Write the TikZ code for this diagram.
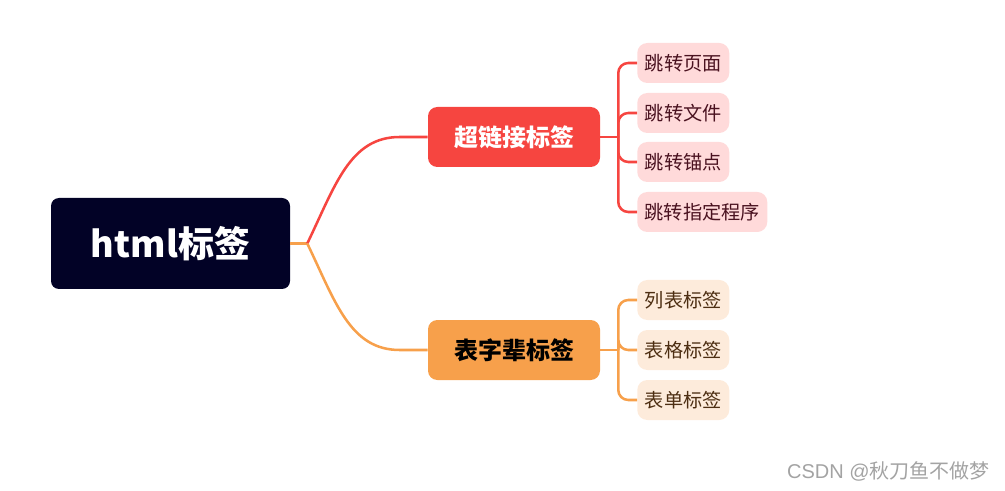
\documentclass[tikz,border=0pt]{standalone}
\usepackage{fontspec}
\setmainfont{Noto Sans CJK SC}
\newfontfamily\cjk{Noto Sans CJK SC}
\newfontfamily\arialx{Liberation Sans}
\usetikzlibrary{calc}
\definecolor{rootbg}{HTML}{020226}
\definecolor{redc}{HTML}{F64540}
\definecolor{orac}{HTML}{F7A04B}
\definecolor{redleaf}{HTML}{FFDADA}
\definecolor{oraleaf}{HTML}{FDEBDB}
\definecolor{redtxt}{HTML}{4A1220}
\definecolor{oratxt}{HTML}{4D2E12}
\definecolor{wm}{HTML}{A3A3A3}
\begin{document}
\begin{tikzpicture}[x=0.75pt,y=-0.75pt,
  rootbox/.style={fill=rootbg, rounded corners=6pt, minimum width=179.25pt, minimum height=68.25pt, inner sep=0pt, text=white, font=\cjk\bfseries\fontsize{27}{30}\selectfont},
  midbox/.style={rounded corners=7pt, minimum width=129pt, minimum height=45pt, inner sep=0pt, font=\cjk\bfseries\fontsize{18}{21}\selectfont},
  leafbox/.style={rounded corners=7.5pt, minimum height=30pt, inner sep=0pt, font=\cjk\fontsize{14.4}{16}\selectfont},
  redleafbox/.style={leafbox, fill=redleaf, text=redtxt},
  oraleafbox/.style={leafbox, fill=oraleaf, text=oratxt},
  redline/.style={draw=redc, line width=1.9pt},
  oraline/.style={draw=orac, line width=1.9pt},
]
\useasboundingbox (0,0) rectangle (1005,491);
% nodes
\node[rootbox] (root) at (170.5,243.5) {html标签};
\node[midbox, fill=redc, text=white] (h1) at (514,137) {超链接标签};
\node[midbox, fill=orac, text=black] (h2) at (514,350) {表字辈标签};
\node[redleafbox, minimum width=69pt, anchor=west] (l1) at (637,63) {跳转页面};
\node[redleafbox, minimum width=69pt, anchor=west] (l2) at (637,113) {跳转文件};
\node[redleafbox, minimum width=69pt, anchor=west] (l3) at (637,162) {跳转锚点};
\node[redleafbox, minimum width=97.5pt, anchor=west] (l4) at (637,212) {跳转指定程序};
\node[oraleafbox, minimum width=69pt, anchor=west] (o1) at (637,300) {列表标签};
\node[oraleafbox, minimum width=69pt, anchor=west] (o2) at (637,350) {表格标签};
\node[oraleafbox, minimum width=69pt, anchor=west] (o3) at (637,400) {表单标签};
\node[anchor=east, text=wm, font=\cjk\fontsize{15}{17}\selectfont, inner sep=0pt] (wmk) at (990,471) {{\arialx CSDN @}秋刀鱼不做梦};
% coordinates
\coordinate (jn) at ($(root.east)+(17,0)$);
\coordinate (h1in) at ($(h1.west)+(-28,0)$);
\coordinate (h2in) at ($(h2.west)+(-28,0)$);
\coordinate (b1) at ($(h1.east)+(18,0)$);
\coordinate (b2) at ($(h2.east)+(18,0)$);
% connectors
\draw[oraline] (root.east) -- (jn);
\draw[redline] (jn) .. controls ($(jn)+(28,-58)$) and ($(h1in)+(-50,0)$) .. (h1in) -- (h1.west);
\draw[oraline] (jn) .. controls ($(jn)+(28,58)$) and ($(h2in)+(-50,0)$) .. (h2in) -- (h2.west);
\draw[redline] (h1.east) -- (b1);
\draw[oraline] (h2.east) -- (b2);
\foreach \n in {l1,l2,l3,l4} \draw[redline, rounded corners=7.5pt] (b1) |- (\n.west);
\foreach \n in {o1,o2,o3} \draw[oraline, rounded corners=7.5pt] (b2) |- (\n.west);
\end{tikzpicture}
\end{document}
